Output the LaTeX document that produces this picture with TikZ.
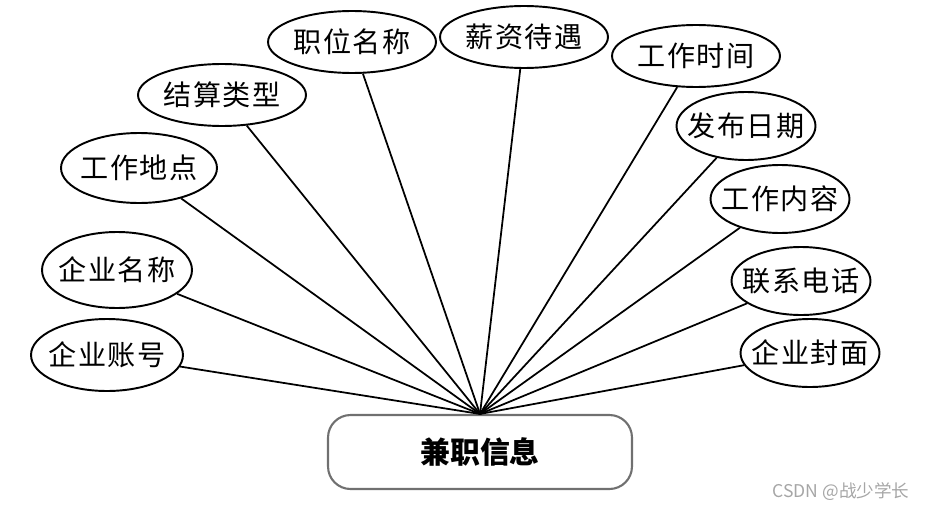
\documentclass[tikz,border=0pt]{standalone}
\usepackage{fontspec}
\usepackage{tikz}
\usetikzlibrary{shapes.geometric,positioning}
\newfontfamily\cjk{Noto Sans CJK SC}
\newfontfamily\cjkwide[LetterSpace=6]{Noto Sans CJK SC}
\definecolor{boxgray}{HTML}{707070}

\begin{document}
\begin{tikzpicture}[x=0.02cm,y=-0.02cm]
      \tikzset{
        attr/.style={ellipse,draw,line width=1.1pt,inner xsep=-8pt,inner ysep=0pt,minimum width=3.36cm,minimum height=1.24cm,font=\cjkwide\fontsize{16}{19}\selectfont},
        small/.style={minimum width=2.78cm,minimum height=1.36cm},
        link/.style={line width=1pt}
      }
      \useasboundingbox (0,0) rectangle (925,510);

      \node[rectangle,draw=boxgray,line width=1.2pt,rounded corners=0.45cm,minimum width=6.08cm,minimum height=1.48cm,font=\cjk\bfseries\fontsize{17}{20}\selectfont] (info) at (480,452) {兼职信息};

      \node[attr] (title) at (352,42) {职位名称};
      \node[attr] (salary) at (524,37) {薪资待遇};
      \node[attr] (worktime) at (696,56) {工作时间};
      \node[attr] (settle) at (222,95) {结算类型};
      \node[attr,small] (pubdate) at (746,126) {发布日期};
      \node[attr,small] (content) at (780,199) {工作内容};
      \node[attr,small] (phone) at (801,281) {联系电话};
      \node[attr,small] (cover) at (810,353) {企业封面};
      \node[attr,minimum width=3.12cm,minimum height=1.4cm] (place) at (139,168) {工作地点};
      \node[attr,minimum width=3.0cm,minimum height=1.52cm] (company) at (117,270) {企业名称};
      \node[attr,minimum width=3.04cm,minimum height=1.44cm] (account) at (107,355) {企业账号};

      \foreach \a in {title,salary,worktime,settle,pubdate,content,phone,cover,place,company,account}
        \draw[link] (\a) -- (info.north);

      \node[text=gray!70,font=\cjk\fontsize{10}{12}\selectfont] (mark) at (841,492) {CSDN @战少学长};
\end{tikzpicture}
\end{document}
